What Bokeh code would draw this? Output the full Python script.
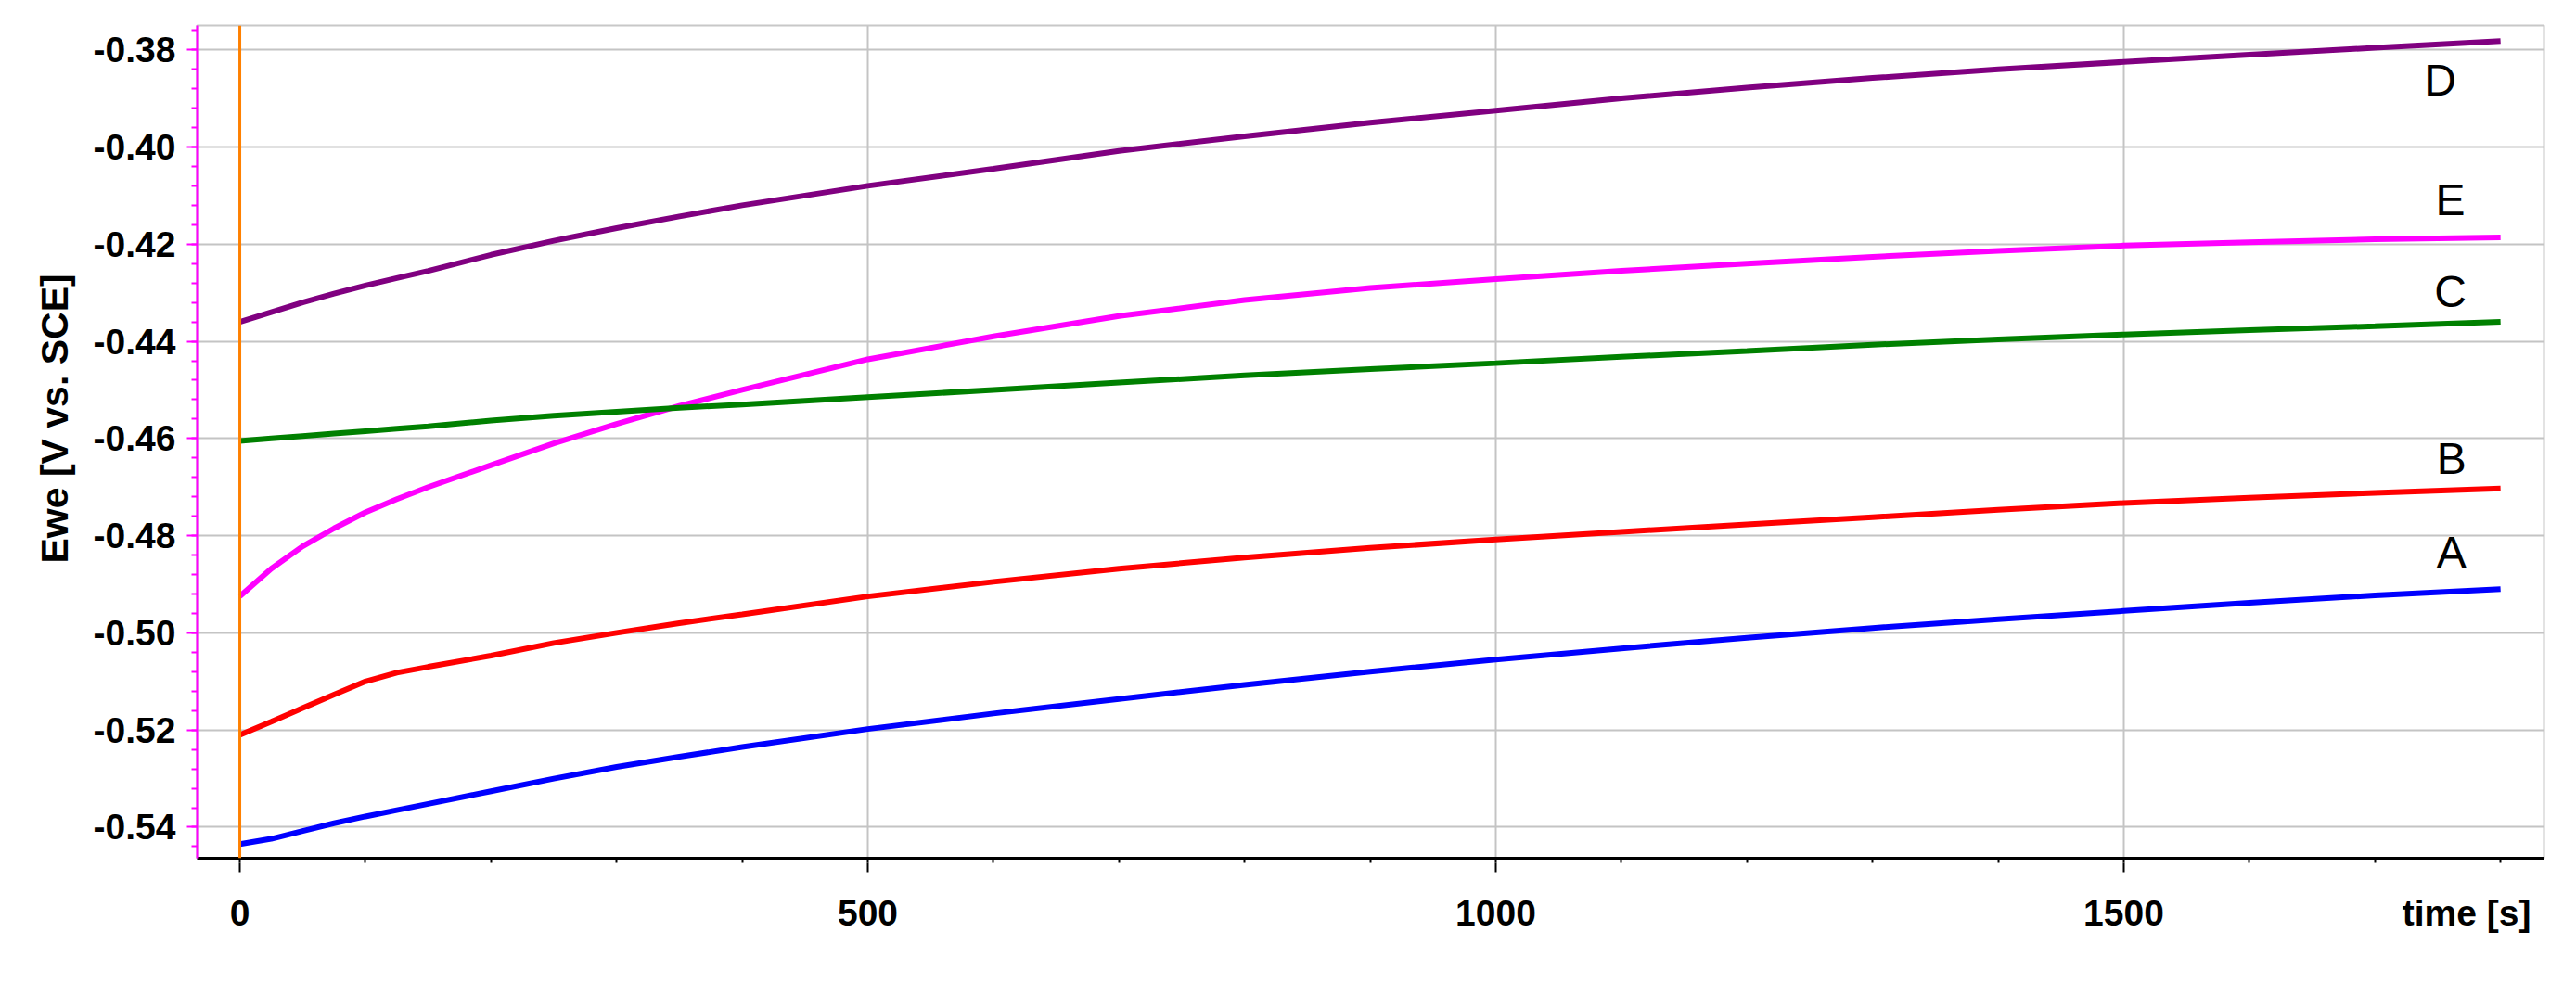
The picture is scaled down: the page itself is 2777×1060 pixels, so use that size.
from bokeh.plotting import figure
from bokeh.models import Range1d, FixedTicker, NumeralTickFormatter, Span, LinearAxis, Title
from bokeh.core.properties import value
from bokeh.embed import file_html
from bokeh.resources import INLINE

# ---- data ----
time_s = [0, 25, 50, 75, 100, 125, 150, 200, 250, 300, 350, 400, 500, 600, 700,
          800, 900, 1000, 1100, 1200, 1300, 1400, 1500, 1600, 1700, 1800]

ewe_D = [-0.4360, -0.4340, -0.4320, -0.4302, -0.4285, -0.4270, -0.4255, -0.4222, -0.4193,
         -0.4167, -0.4143, -0.4120, -0.4080, -0.4045, -0.4008, -0.3978, -0.3950,
         -0.3925, -0.3900, -0.3878, -0.3858, -0.3840, -0.3825, -0.3810, -0.3796, -0.3782]
ewe_E = [-0.4925, -0.4868, -0.4822, -0.4785, -0.4752, -0.4725, -0.4700, -0.4655, -0.4610,
         -0.4570, -0.4533, -0.4500, -0.4437, -0.4390, -0.4348, -0.4315, -0.4290,
         -0.4272, -0.4255, -0.4240, -0.4226, -0.4214, -0.4203, -0.4196, -0.4190, -0.4186]
ewe_C = [-0.4605, -0.4600, -0.4595, -0.4590, -0.4585, -0.4580, -0.4575, -0.4563, -0.4553,
         -0.4545, -0.4537, -0.4530, -0.4515, -0.4500, -0.4485, -0.4470, -0.4457,
         -0.4445, -0.4432, -0.4420, -0.4407, -0.4396, -0.4386, -0.4377, -0.4369, -0.4360]
ewe_B = [-0.5210, -0.5183, -0.5155, -0.5127, -0.5100, -0.5082, -0.5070, -0.5047, -0.5021,
         -0.5000, -0.4980, -0.4962, -0.4925, -0.4895, -0.4868, -0.4845, -0.4825,
         -0.4808, -0.4792, -0.4777, -0.4762, -0.4747, -0.4733, -0.4722, -0.4712, -0.4703]
ewe_A = [-0.5435, -0.5424, -0.5408, -0.5392, -0.5378, -0.5365, -0.5352, -0.5326, -0.5300,
         -0.5276, -0.5255, -0.5235, -0.5198, -0.5166, -0.5136, -0.5107, -0.5080,
         -0.5055, -0.5032, -0.5010, -0.4990, -0.4972, -0.4955, -0.4938, -0.4923, -0.4910]

series_names = ["D", "E", "C", "B", "A"]
series_values = [ewe_D, ewe_E, ewe_C, ewe_B, ewe_A]
series_colors = ["#800080", "#FF00FF", "#008000", "#FF0000", "#0000FF"]

x_ticks = [0, 500, 1000, 1500]
x_minor = list(range(0, 1900, 100))
x_label_pos = 1773
x_title = "time [s]"
y_ticks = [-0.54, -0.52, -0.50, -0.48, -0.46, -0.44, -0.42, -0.40, -0.38]
y_title = "Ewe [V vs. SCE]"

# curve-end letter positions (data coords)
letter_x = [1752, 1760, 1760, 1761, 1761]
letter_y = [-0.3863, -0.4109, -0.4298, -0.4642, -0.4834]

FONT = "Liberation Sans"

p = figure(frame_width=2530, frame_height=898,
           x_range=Range1d(-34, 1834.6), y_range=Range1d(-0.5464, -0.3750),
           output_backend="svg", toolbar_location=None,
           min_border_left=212, min_border_right=19,
           min_border_top=27, min_border_bottom=119)
p.background_fill_color = "white"
p.border_fill_color = "white"
p.outline_line_color = "#C8C8C8"
p.outline_line_width = 2

# ---- x axis: first axis = black line + short minor ticks (no labels) ----
xa = p.xaxis[0]
xa.ticker = FixedTicker(ticks=[], minor_ticks=x_minor)
xa.axis_line_color = "black"
xa.axis_line_width = 3
xa.major_tick_out = 5
xa.major_tick_in = 0
xa.minor_tick_line_color = "black"
xa.minor_tick_line_width = 2
xa.minor_tick_out = 5
xa.minor_tick_in = 0

# second axis: longer ticks at 0/500/1000/1500 and all labels incl. "time [s]"
xlab = LinearAxis(ticker=FixedTicker(ticks=x_ticks + [x_label_pos], minor_ticks=x_ticks),
                  major_label_overrides={x_label_pos: x_title})
xlab.axis_line_color = None
xlab.major_tick_line_color = None
xlab.major_tick_out = 10
xlab.major_tick_in = 0
xlab.minor_tick_line_color = "black"
xlab.minor_tick_line_width = 2
xlab.minor_tick_out = 10
xlab.minor_tick_in = 0
xlab.major_label_text_font = FONT
xlab.major_label_text_font_style = "bold"
xlab.major_label_text_font_size = "39px"
xlab.major_label_text_color = "black"
xlab.major_label_standoff = 22
p.add_layout(xlab, "below")

p.xgrid.ticker = FixedTicker(ticks=x_ticks)

# ---- y axis ----
ya = p.yaxis[0]
ya.ticker = FixedTicker(ticks=y_ticks,
                        minor_ticks=[round(-0.548 + 0.004 * i, 3) for i in range(45)])
ya.formatter = NumeralTickFormatter(format="0.00")
ya.axis_line_color = "#FF00FF"
ya.axis_line_width = 2
ya.major_tick_line_color = "#FF00FF"
ya.major_tick_line_width = 2
ya.major_tick_out = 11
ya.major_tick_in = 0
ya.minor_tick_line_color = "#FF00FF"
ya.minor_tick_line_width = 2
ya.minor_tick_out = 6
ya.minor_tick_in = 0
ya.major_label_text_font = FONT
ya.major_label_text_font_style = "bold"
ya.major_label_text_font_size = "39px"
ya.major_label_text_color = "black"
ya.major_label_standoff = 12
p.ygrid.ticker = FixedTicker(ticks=y_ticks)

for g in (p.xgrid, p.ygrid):
    g.grid_line_color = "#C4C4C4"
    g.grid_line_width = 2

p.add_layout(Title(text=y_title, align="left", offset=318, standoff=32,
                   text_font=FONT, text_font_style="bold", text_font_size="41px",
                   text_color="black"), "left")

# orange marker line at t = 0
p.add_layout(Span(location=0, dimension="height", line_color="#FF8000", line_width=3))

for vals, col in zip(series_values, series_colors):
    p.line(time_s, vals, line_color=col, line_width=6)

p.text(x=letter_x, y=letter_y, text=series_names, text_font=value(FONT),
       text_font_size="48px", text_align="center", text_baseline="middle",
       text_color="black")

open("out.html", "w").write(file_html(p, INLINE))
